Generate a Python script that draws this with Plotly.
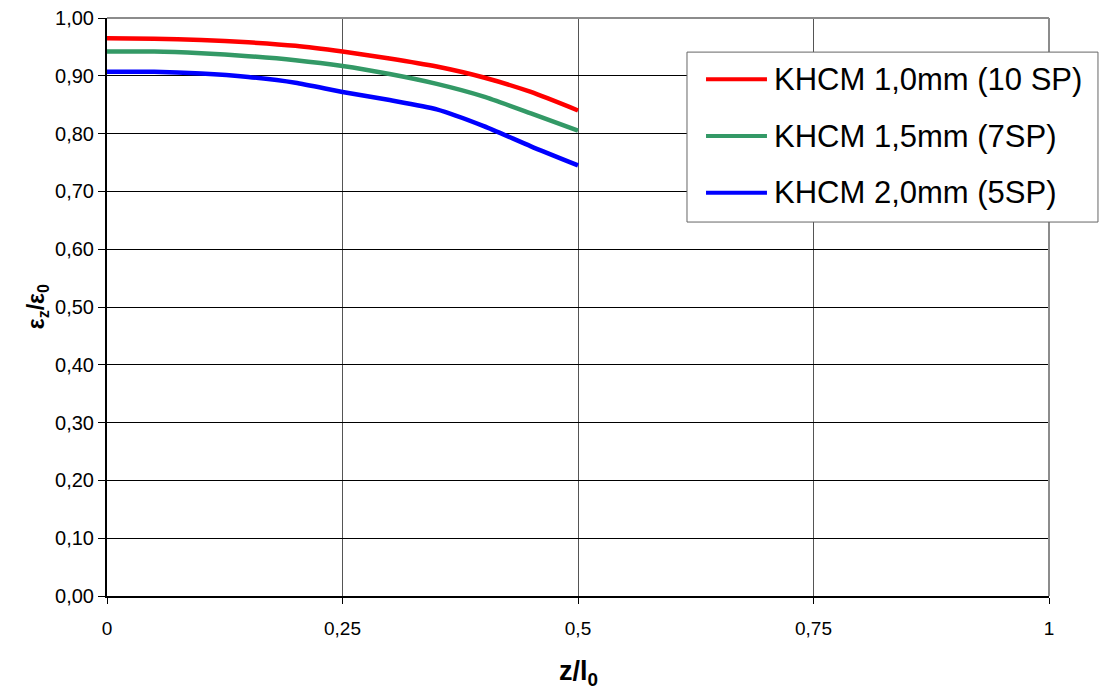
import plotly.graph_objects as go

# Relative position along the specimen z/l0
z_pos = [0.0, 0.05, 0.10, 0.15, 0.20, 0.25, 0.30, 0.35, 0.40, 0.45, 0.50]

# Strain ratio eps_z / eps_0 for each mesh size
eps_10mm = [0.965, 0.964, 0.962, 0.958, 0.952, 0.942, 0.930, 0.916, 0.897, 0.872, 0.840]
eps_15mm = [0.942, 0.942, 0.939, 0.934, 0.927, 0.917, 0.903, 0.886, 0.864, 0.835, 0.805]
eps_20mm = [0.907, 0.907, 0.904, 0.898, 0.888, 0.872, 0.858, 0.842, 0.813, 0.778, 0.745]

series_names = ["KHCM 1,0mm (10 SP)", "KHCM 1,5mm (7SP)", "KHCM 2,0mm (5SP)"]
series_colors = ["#ff0000", "#339966", "#0000ff"]
series_values = [eps_10mm, eps_15mm, eps_20mm]

x_ticks = [0, 0.25, 0.5, 0.75, 1]
x_tick_text = ["0", "0,25", "0,5", "0,75", "1"]
y_ticks = [i / 10 for i in range(11)]
y_tick_text = [f"{v:.2f}".replace(".", ",") for v in y_ticks]

FONT = "Liberation Sans, Arial, sans-serif"

fig = go.Figure()
for name, color, vals in zip(series_names, series_colors, series_values):
    fig.add_trace(go.Scatter(
        x=z_pos, y=vals, name=name, mode="lines",
        line=dict(color=color, width=4.5, shape="spline", smoothing=0.6),
        showlegend=False,
    ))

# Plot frame: grey top and right borders
shapes = [
    dict(type="line", xref="paper", yref="paper", x0=0, x1=1, y0=1, y1=1,
         line=dict(color="#8c8c8c", width=2), layer="above"),
    dict(type="line", xref="paper", yref="paper", x0=1, x1=1, y0=0, y1=1,
         line=dict(color="#8c8c8c", width=2), layer="above"),
]

# Legend box with sample lines and labels
box_x0, box_x1, box_y0, box_y1 = 0.6157, 1.052, 0.647, 0.941
shapes.append(dict(type="rect", xref="paper", yref="paper",
                   x0=box_x0, x1=box_x1, y0=box_y0, y1=box_y1,
                   fillcolor="white", line=dict(color="#666666", width=1),
                   layer="above"))
legend_rows = [0.894, 0.7958, 0.6978]
annotations = []
for name, color, yy in zip(series_names, series_colors, legend_rows):
    shapes.append(dict(type="line", xref="paper", yref="paper",
                       x0=0.6359, x1=0.7006, y0=yy, y1=yy,
                       line=dict(color=color, width=4), layer="above"))
    annotations.append(dict(xref="paper", yref="paper", x=0.706, y=yy,
                            text=name, showarrow=False, xanchor="left",
                            yanchor="middle",
                            font=dict(family=FONT, size=31, color="black")))

# Axis titles
annotations.append(dict(xref="paper", yref="paper", x=0.5, y=-0.133,
                        text="<b>z/l<sub>0</sub></b>", showarrow=False,
                        xanchor="center", yanchor="middle",
                        font=dict(family=FONT, size=27, color="black")))
annotations.append(dict(xref="paper", yref="paper", x=-0.074, y=0.5,
                        text="<b>ε<sub>z</sub>/ε<sub>0</sub></b>", showarrow=False,
                        xanchor="center", yanchor="middle", textangle=-90,
                        font=dict(family=FONT, size=23, color="black")))

fig.update_layout(
    width=1099, height=691,
    margin=dict(l=107, r=50, t=18, b=95, autoexpand=False),
    paper_bgcolor="white", plot_bgcolor="white",
    shapes=shapes, annotations=annotations,
    showlegend=False,
)
fig.update_xaxes(
    range=[0, 1], tickvals=x_ticks, ticktext=x_tick_text,
    showgrid=True, gridcolor="#555555", gridwidth=1,
    showline=True, linecolor="black", linewidth=2,
    ticks="outside", ticklen=6, tickcolor="black",
    ticklabelstandoff=8,
    tickfont=dict(family=FONT, size=19, color="black"),
    zeroline=False, automargin=False,
)
fig.update_yaxes(
    range=[0, 1], tickvals=y_ticks, ticktext=y_tick_text,
    showgrid=True, gridcolor="black", gridwidth=1,
    showline=True, linecolor="black", linewidth=2,
    ticks="outside", ticklen=7, tickcolor="black",
    tickfont=dict(family=FONT, size=20, color="black"),
    zeroline=False, automargin=False,
)

fig.write_html("out.html")
